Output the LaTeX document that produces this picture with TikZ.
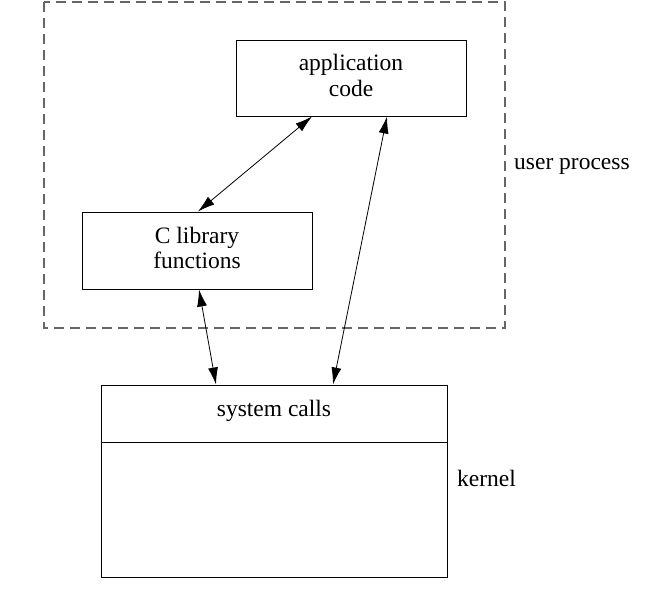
\documentclass[tikz,border=0pt]{standalone}
\usepackage{fontspec}
\setmainfont{Liberation Serif}
\usetikzlibrary{arrows.meta}
\begin{document}
\begin{tikzpicture}[x=1pt,y=-1pt,
  every node/.style={font=\fontsize{23.5}{25.5}\selectfont, inner sep=0pt},
  box/.style={draw, line width=1pt, align=center},
  conn/.style={line width=0.8pt, {Latex[length=17pt,width=10pt]}-{Latex[length=17pt,width=10pt]}},
  grp/.style={draw=black!60, line width=1.1pt, dash pattern=on 10pt off 6pt}]
\useasboundingbox (0,0) rectangle (667,614);
\draw[grp] (44,2) rectangle (505,328);
\node[box, minimum width=230pt, minimum height=76pt] (app) at (351,78) {};
\node (apptext) at (351,75.5) [align=center] {application\\code};
\node[box, minimum width=230pt, minimum height=77pt] (lib) at (197,250.5) {};
\node (libtext) at (197,248) [align=center] {C library\\functions};
\node[box, minimum width=346pt, minimum height=192pt] (sys) at (274,481) {};
\draw[line width=1pt] (sys.west |- 0,442) -- (sys.east |- 0,442);
\node (sc) at (274,411) {system calls};
\node[anchor=west] (up) at (514,166) {user process};
\node[anchor=west] (kern) at (457,478) {kernel};
\draw[conn] ([xshift=-39pt]app.south) -- ([xshift=1pt]lib.north);
\draw[conn] ([xshift=36pt]app.south) -- ([xshift=59pt]sys.north);
\draw[conn] ([xshift=2pt]lib.south) -- ([xshift=-58pt]sys.north);
\end{tikzpicture}
\end{document}
